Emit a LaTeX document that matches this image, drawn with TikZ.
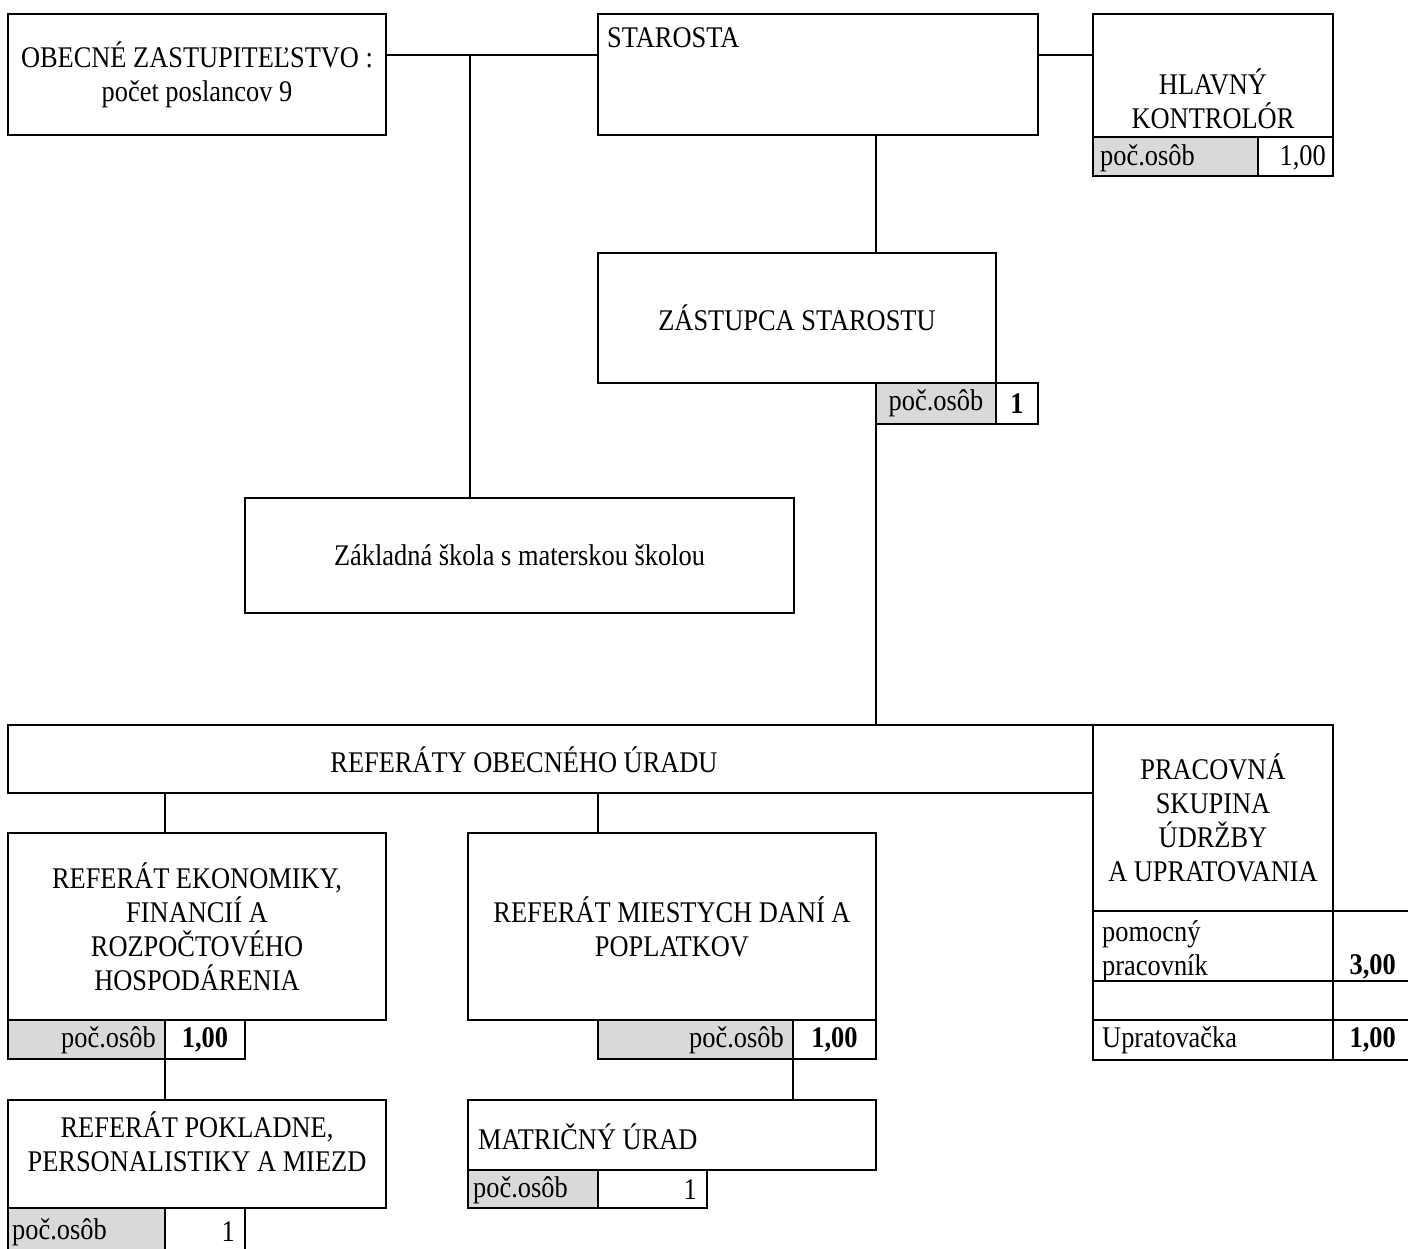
\documentclass[tikz,border=0pt]{standalone}
\usepackage{fontspec}
\setmainfont{Liberation Serif}[FakeStretch=0.88]
\definecolor{cellgray}{RGB}{217,217,217}
\begin{document}
\begin{tikzpicture}[x=1pt,y=-1pt,
  txt/.style={font=\fontsize{30}{34}\selectfont, inner sep=0pt, align=center},
  box/.style={draw, line width=2pt, inner sep=0pt, outer sep=0pt, fill=white,
              font=\fontsize{30}{34}\selectfont, align=center},
  gcell/.style={box, fill=cellgray},
  conn/.style={line width=1.6pt}]
\useasboundingbox (0,0) rectangle (1408,1248);

% top row
\node[box, minimum width=378pt, minimum height=121pt] (oz) at (197,74.5) {OBECNÉ ZASTUPITEĽSTVO :\\počet poslancov 9};
\node[box, minimum width=440pt, minimum height=121pt] (st) at (818,74.5) {};
\node[txt, anchor=west] (stt) at (607,38) {STAROSTA};
\node[box, minimum width=240pt, minimum height=123pt] (hk) at (1213,75.5) {};
\node[txt] (hkt) at (1213,99) {HLAVNÝ\\KONTROLÓR};
\node[gcell, minimum width=165pt, minimum height=39pt] (hkg) at (1175.5,156.5) {};
\node[box, minimum width=75pt, minimum height=39pt] (hkv) at (1295.5,156.5) {};
\node[txt, anchor=west] (hkgt) at (1100,158) {poč.osôb};
\node[txt, anchor=east] (hkvt) at (1326,158) {1,00};

% deputy
\node[box, minimum width=398pt, minimum height=130pt] (zs) at (797,318) {ZÁSTUPCA STAROSTU};
\node[gcell, minimum width=120pt, minimum height=41pt] (zsg) at (936,403.5) {poč.osôb};
\node[box, minimum width=42pt, minimum height=41pt] (zsv) at (1017,403.5) {\textbf{1}};

% school
\node[box, minimum width=549pt, minimum height=115pt] (zk) at (519.5,555.5) {Základná škola s materskou školou};

% office
\node[box, minimum width=1085pt, minimum height=68pt] (ref) at (550.5,759) {};
\node[txt] (reft) at (524,760) {REFERÁTY OBECNÉHO ÚRADU};

% working group
\node[box, minimum width=240pt, minimum height=186pt] (pr) at (1213,818) {PRACOVNÁ\\SKUPINA\\ÚDRŽBY\\A UPRATOVANIA};
\node[box, minimum width=240pt, minimum height=70pt] (pr1) at (1213,946) {};
\node[box, minimum width=79pt, minimum height=70pt] (pr1v) at (1372.5,946) {};
\node[box, minimum width=240pt, minimum height=39pt] (pr2) at (1213,1000.5) {};
\node[box, minimum width=79pt, minimum height=39pt] (pr2v) at (1372.5,1000.5) {};
\node[box, minimum width=240pt, minimum height=40pt] (pr3) at (1213,1040) {};
\node[box, minimum width=79pt, minimum height=40pt] (pr3v) at (1372.5,1040) {};
\node[txt, anchor=west, align=left] (pr1t) at (1102,951) {pomocný\\pracovník};
\node[txt, anchor=east] (pr1vt) at (1396,967) {\textbf{3,00}};
\node[txt, anchor=west] (pr3t) at (1102,1040) {Upratovačka};
\node[txt, anchor=east] (pr3vt) at (1396,1040) {\textbf{1,00}};

% economy
\node[box, minimum width=378pt, minimum height=187pt] (ek) at (197,926.5) {REFERÁT EKONOMIKY,\\FINANCIÍ A\\ROZPOČTOVÉHO\\HOSPODÁRENIA};
\node[gcell, minimum width=157pt, minimum height=39pt] (ekg) at (86.5,1039.5) {};
\node[box, minimum width=80pt, minimum height=39pt] (ekv) at (205,1039.5) {\textbf{1,00}};
\node[txt, anchor=east] (ekgt) at (156,1040) {poč.osôb};

% local taxes
\node[box, minimum width=408pt, minimum height=187pt] (mi) at (672,926.5) {REFERÁT MIESTYCH DANÍ A\\POPLATKOV};
\node[gcell, minimum width=195pt, minimum height=39pt] (mig) at (695.5,1039.5) {};
\node[box, minimum width=83pt, minimum height=39pt] (miv) at (834.5,1039.5) {\textbf{1,00}};
\node[txt, anchor=east] (migt) at (784,1040) {poč.osôb};

% cash desk
\node[box, minimum width=378pt, minimum height=108pt] (po) at (197,1154) {};
\node[txt] (pot) at (197,1142) {REFERÁT POKLADNE,\\PERSONALISTIKY A MIEZD};
\node[gcell, minimum width=157pt, minimum height=44pt] (pog) at (86.5,1230) {};
\node[box, minimum width=80pt, minimum height=44pt] (pov) at (205,1230) {};
\node[txt, anchor=west] (pogt) at (12,1232) {poč.osôb};
\node[txt, anchor=east] (povt) at (235,1232) {1};

% registry
\node[box, minimum width=408pt, minimum height=70pt] (ma) at (672,1135) {};
\node[txt, anchor=west] (mat) at (478,1137) {MATRIČNÝ ÚRAD};
\node[gcell, minimum width=130pt, minimum height=38pt] (mag) at (533,1189) {};
\node[box, minimum width=109pt, minimum height=38pt] (mav) at (652.5,1189) {};
\node[txt, anchor=west] (magt) at (473,1190) {poč.osôb};
\node[txt, anchor=east] (mavt) at (697,1190) {1};

% connectors
\coordinate (j1) at (470,55);
\draw[conn] (oz.east |- j1) -- (st.west |- j1);
\draw[conn] (j1) -- (j1 |- zk.north);
\draw[conn] (st.east |- j1) -- (hk.west |- j1);
\draw[conn] (zsg.west |- st.south) -- (zsg.west |- zs.north);
\draw[conn] (zsg.south west) -- (zsg.south west |- ref.north);
\draw[conn] (ekg.east |- ref.south) -- (ekg.east |- ek.north);
\draw[conn] (mig.west |- ref.south) -- (mig.west |- mi.north);
\draw[conn] (ekg.south east) -- (ekg.south east |- po.north);
\draw[conn] (mig.south east) -- (mig.south east |- ma.north);
\end{tikzpicture}
\end{document}
